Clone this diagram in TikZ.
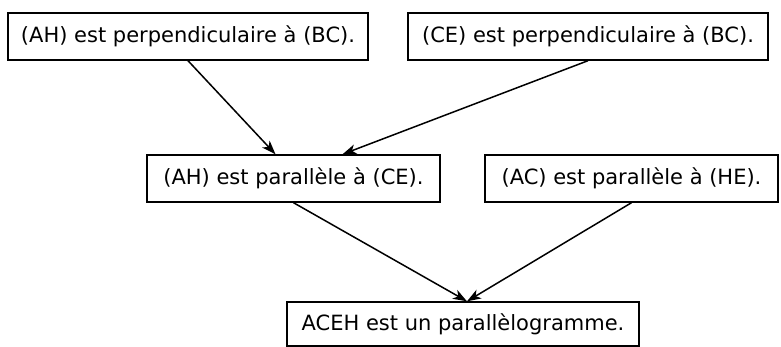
\documentclass[tikz,border=0pt]{standalone}
\usepackage{fontspec}
\setmainfont{DejaVu Sans}
\usetikzlibrary{arrows.meta}
\begin{document}
\begin{tikzpicture}[x=1pt, y=1pt,
    fact/.style={draw, line width=1.4pt, inner xsep=0pt, minimum height=47pt,
      font=\fontsize{21}{25}\selectfont},
    link/.style={line width=1.5pt, -{Stealth[length=14pt, width=10pt, inset=4pt]}}]
  % Fix the frame
  \useasboundingbox (0,0) rectangle (781,347);
  % Place the nodes
  \node[fact, minimum width=360pt] (perpAH) at (188,310.5) {(AH) est perpendiculaire à (BC).};
  \node[fact, minimum width=360pt] (perpCE) at (588,310.5) {(CE) est perpendiculaire à (BC).};
  \node[fact, minimum width=293pt] (paraAH) at (293.5,168.5) {(AH) est parallèle à (CE).};
  \node[fact, minimum width=293pt] (paraAC) at (631.5,168.5) {(AC) est parallèle à (HE).};
  \node[fact, minimum width=352pt, minimum height=44pt] (concl) at (463,23) {ACEH est un parallèlogramme.};
  % Draw arrows to the middle row
  \draw[link] (perpAH.south) -- ([xshift=-18pt]paraAH.north);
  \draw[link] (perpCE.south) -- ([xshift=49pt]paraAH.north);
  % Draw arrows to the conclusion
  \draw[link] (paraAH.south) -- ([xshift=4pt]concl.north);
  \draw[link] (paraAC.south) -- ([xshift=4pt]concl.north);
\end{tikzpicture}
\end{document}
